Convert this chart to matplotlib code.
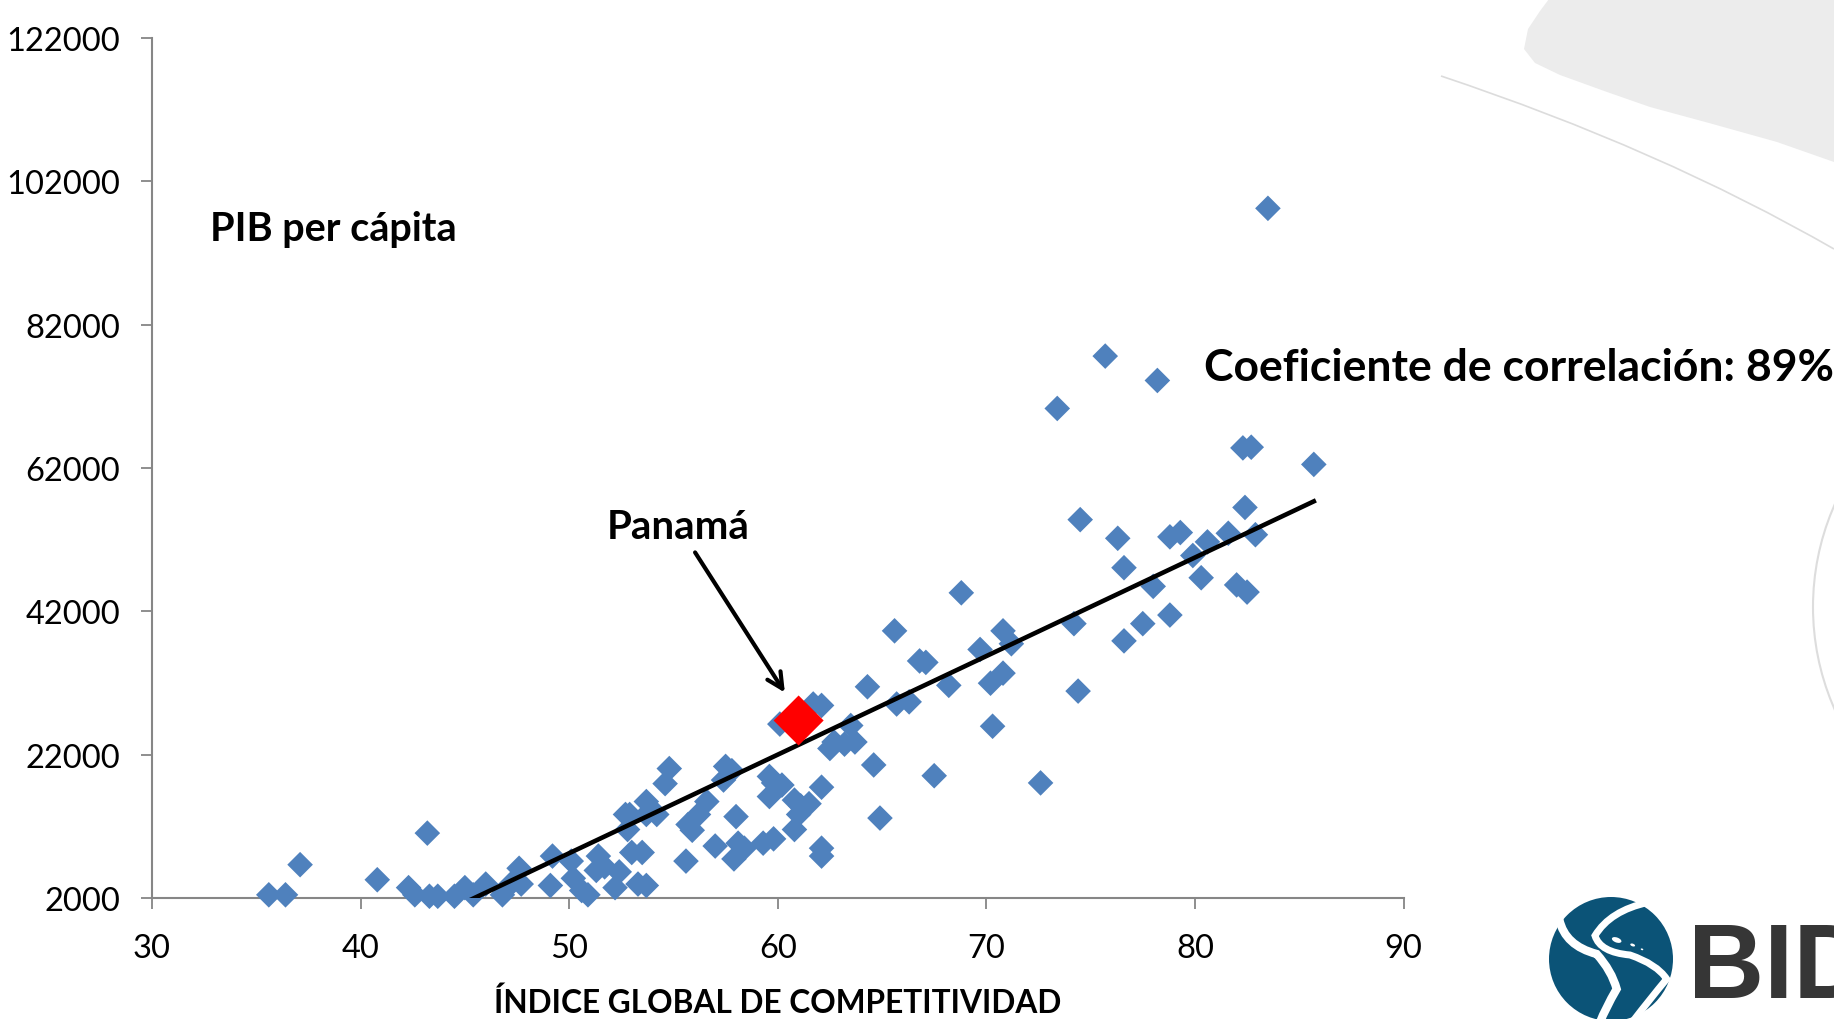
import matplotlib
matplotlib.use("Agg")
import matplotlib.pyplot as plt
from matplotlib.patches import Circle, PathPatch, Ellipse, Polygon
from matplotlib.path import Path
from matplotlib.transforms import IdentityTransform
import numpy as np

plt.rcParams['font.family'] = ['Lato', 'DejaVu Sans']

# ---------------- data ----------------
competitividad = [35.6, 36.4, 37.1, 40.8, 42.3, 42.6, 43.2, 43.3, 43.7, 44.5,
                  45.0, 45.4, 46.0, 46.8, 47.2, 47.6, 47.7, 49.1, 49.2, 50.1,
                  50.2, 50.6, 50.9, 51.3, 51.4, 51.7, 52.2, 52.4, 52.7, 52.8,
                  53.0, 53.3, 53.5, 53.7, 53.7, 53.7, 54.2, 54.6, 54.8, 55.6,
                  55.7, 55.9, 56.2, 56.6, 57.0, 57.4, 57.5, 57.8, 57.9, 58.0,
                  58.1, 58.4, 59.3, 59.6, 59.6, 59.8, 59.8, 60.1, 60.2, 60.8,
                  60.8, 61.0, 61.1, 61.5, 61.7, 62.1, 62.1, 62.1, 62.1, 62.5,
                  62.7, 63.2, 63.5, 63.7, 64.3, 64.6, 64.9, 65.6, 65.7, 66.3,
                  66.8, 67.1, 67.5, 68.2, 68.8, 69.7, 70.2, 70.3, 70.8, 70.8,
                  71.2, 72.6, 73.4, 74.2, 74.4, 74.5, 75.7, 76.3, 76.6, 76.6,
                  77.5, 78.0, 78.2, 78.8, 78.8, 79.3, 79.9, 80.3, 80.6, 81.6,
                  82.0, 82.3, 82.4, 82.5, 82.7, 82.9, 83.5, 85.7, 52.9]
pib_per_capita = [2500, 2500, 6700, 4600, 3500, 2500, 11100, 2300, 2300, 2300,
                  3500, 2500, 4000, 2500, 4000, 6200, 4000, 3800, 7900, 7200,
                  4800, 3100, 2500, 5900, 7900, 6400, 3500, 5700, 13700, 11600,
                  8400, 4000, 8400, 13700, 15500, 3800, 13700, 18000, 20100, 7200,
                  12300, 11500, 13700, 15500, 9300, 18500, 20400, 19800, 7500, 13400,
                  9700, 9000, 9700, 19000, 16200, 18100, 10300, 26300, 17800, 11600,
                  15700, 13700, 14900, 15200, 29100, 28900, 17500, 9000, 7900, 22900,
                  23800, 23500, 26100, 23800, 31500, 20600, 13200, 39300, 29100, 29400,
                  35100, 34900, 19100, 31700, 44600, 36700, 32000, 26000, 39300, 33400,
                  37500, 18100, 70300, 40300, 30900, 54800, 77600, 52200, 37900, 48100,
                  40300, 45500, 74200, 41500, 52400, 53000, 49800, 46700, 51700, 52900,
                  45700, 64800, 56500, 44700, 64900, 52700, 98200, 62500, 13700]

panama_x = [61.0]
panama_y = [26800]

trend_slope = 1374.0
trend_intercept = -60400.0

x_ticks = [30, 40, 50, 60, 70, 80, 90]
y_ticks = [2000, 22000, 42000, 62000, 82000, 102000, 122000]

# ---------------- figure ----------------
W, H = 1834, 1020
fig = plt.figure(figsize=(W / 100, H / 100), dpi=100)
fig.patch.set_facecolor('white')

def P(x, y):
    """full-pixel (top origin) -> display coords"""
    return (x, H - y)

ident = IdentityTransform()

# background decorations
blob = [(1549, 0), (1834, 0), (1834, 163), (1777, 143), (1709, 124), (1650, 108),
        (1607, 93), (1560, 76), (1535, 64), (1524, 50), (1528, 30), (1540, 12)]
fig.add_artist(Polygon([P(*p) for p in blob], closed=True, transform=ident,
                       facecolor='#ececec', edgecolor='none', zorder=0))
thin = Path([P(1441, 77), P(1660, 150), P(1834, 250)],
            [Path.MOVETO, Path.CURVE3, Path.CURVE3])
fig.add_artist(PathPatch(thin, transform=ident, facecolor='none',
                         edgecolor='#dcdcdc', lw=1.2, zorder=0))
fig.add_artist(Circle(P(2066, 608), 253, transform=ident, facecolor='none',
                      edgecolor='#dddddd', lw=1.5, zorder=0))

# logo
logo_c = '#0b5377'
fig.add_artist(Circle(P(1611, 960), 62, transform=ident, facecolor=logo_c,
                      edgecolor='none', zorder=1))

def Z(zx, zy):
    return P(1500 + zx / 3, 880 + zy / 3)

s1 = Path([Z(178, 122), Z(195, 200), Z(290, 225), Z(335, 275), Z(350, 330),
           Z(315, 390), Z(300, 430)],
          [Path.MOVETO, Path.CURVE3, Path.CURVE3, Path.CURVE3, Path.CURVE3,
           Path.CURVE3, Path.CURVE3])
fig.add_artist(PathPatch(s1, transform=ident, facecolor='none', edgecolor='white',
                         lw=6, zorder=2))
s2 = Path([Z(445, 70), Z(330, 95), Z(285, 170), Z(300, 220), Z(390, 228),
           Z(470, 255), Z(500, 300), Z(450, 360), Z(400, 425)],
          [Path.MOVETO, Path.CURVE3, Path.CURVE3, Path.CURVE3, Path.CURVE3,
           Path.CURVE3, Path.CURVE3, Path.CURVE3, Path.CURVE3])
fig.add_artist(PathPatch(s2, transform=ident, facecolor='none', edgecolor='white',
                         lw=5, zorder=2))
for (zx, zy, w, h) in [(350, 183, 30, 15), (398, 198, 15, 8), (426, 211, 8, 5)]:
    cx, cy = Z(zx, zy)
    fig.add_artist(Ellipse((cx, cy), w / 3, h / 3, angle=-20, transform=ident,
                           facecolor='white', edgecolor='none', zorder=3))
fig.text(1688 / W, 1 - 998 / H, 'BID', fontsize=76, fontweight='bold',
         family='Liberation Sans', color='#363636', ha='left', va='baseline')

# ---------------- axes ----------------
left, right, top, bottom = 152, 1403.5, 38.6, 899.4
ax = fig.add_axes([left / W, 1 - bottom / H, (right - left) / W, (bottom - top) / H])
ax.set_facecolor('none')
ax.set_xlim(30, 90)
ax.set_ylim(2000, 122000)
ax.set_xticks(x_ticks)
ax.set_yticks(y_ticks)
ax.set_xticklabels([str(v) for v in x_ticks])
ax.set_yticklabels([str(v) for v in y_ticks])
for s in ['top', 'right']:
    ax.spines[s].set_visible(False)
for s in ['left', 'bottom']:
    ax.spines[s].set_color('#868686')
    ax.spines[s].set_linewidth(1.5)
ax.tick_params(axis='both', direction='out', length=8, width=1.3, color='#868686',
               labelsize=23.5, labelcolor='black')
ax.tick_params(axis='y', pad=15)
ax.tick_params(axis='x', pad=17)

ax.scatter(competitividad, pib_per_capita, marker='D', s=170, color='#4f81bd',
           edgecolors='none', zorder=3, clip_on=False)
xs = np.array([min(competitividad), max(competitividad)])
ax.plot(xs, trend_slope * xs + trend_intercept, color='black', lw=3.3, zorder=4)
ax.scatter(panama_x, panama_y, marker='D', s=650, color='#ff0000',
           edgecolors='none', zorder=5)

ax.text(32.8, 95400, 'PIB per cápita', fontsize=28.5, fontweight='bold',
        ha='left', va='center')
ax.text(80.42, 76020, 'Coeficiente de correlación: 89%', fontsize=32,
        fontweight='bold', ha='left', va='center', clip_on=False)
ax.annotate('Panamá', xy=(60.34, 30700), xytext=(55.24, 53850),
            ha='center', va='center', fontsize=29, fontweight='bold',
            arrowprops=dict(arrowstyle='->', lw=3, color='black',
                            mutation_scale=28, shrinkA=4, shrinkB=0))

fig.text(778 / W, 1 - 1003 / H, 'ÍNDICE GLOBAL DE COMPETITIVIDAD', fontsize=22.8,
         fontweight='bold', ha='center', va='center')

fig.savefig('out.png', dpi=100, facecolor='white')
